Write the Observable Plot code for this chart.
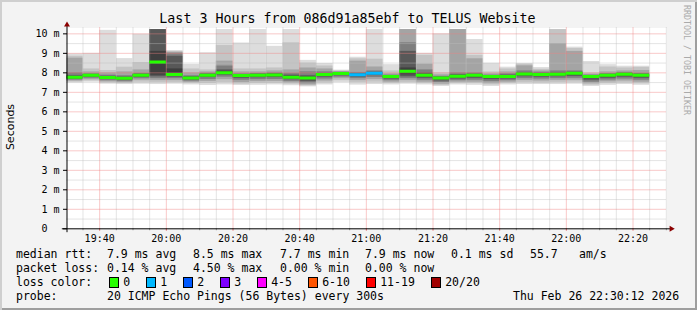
<!DOCTYPE html>
<html><head><meta charset="utf-8">
<script src="https://cdn.jsdelivr.net/npm/d3@7"></script>
<script src="https://cdn.jsdelivr.net/npm/@observablehq/plot@0.6"></script>
<style>
html,body{margin:0;padding:0;background:#f3f3f3;}
#wrap{position:relative;width:697px;height:310px;background:#f3f3f3;box-shadow:inset 2px 2px 0 #cfcfcf, inset -2px -2px 0 #9e9e9e;overflow:hidden;font-family:"DejaVu Sans Mono",monospace;color:#000;}
#wrap svg{position:absolute;left:0;top:0;}
.t{position:absolute;white-space:pre;font-size:11.5px;line-height:14px;height:14px;}
.box{position:absolute;width:8px;height:9px;border:1px solid #000;}
</style>
</head><body>
<div id="wrap"></div>
<script>
// ---------- data ----------
const times = ["19:30","19:35","19:40","19:45","19:50","19:55","20:00","20:05","20:10","20:15","20:20","20:25","20:30","20:35","20:40","20:45","20:50","20:55","21:00","21:05","21:10","21:15","21:20","21:25","21:30","21:35","21:40","21:45","21:50","21:55","22:00","22:05","22:10","22:15","22:20"];
// smoke layer bounds (ms), outermost (max/min) to innermost
const pMax = [8.97,9.0,10.18,8.73,9.98,10.22,9.14,8.43,9.03,10.22,9.53,10.22,9.36,10.22,8.64,8.48,8.14,8.80,10.22,8.42,10.22,9.0,10.0,10.22,9.71,8.49,8.29,8.48,8.27,10.22,9.32,8.58,8.42,8.34,8.34];
const pHi2 = [8.85,8.2,8.12,8.29,8.53,10.22,9.1,8.2,8.15,9.4,8.2,8.2,8.25,9.54,8.5,8.35,8.1,8.72,8.7,8.1,10.22,8.9,8.0,10.22,8.9,8.05,8.2,8.44,8.18,10.22,9.25,8.0,8.3,8.25,8.28];
const pHi3 = [8.75,8.05,8.0,8.05,8.15,10.22,9.05,8.0,8.05,8.6,8.05,8.05,8.1,8.15,8.25,8.2,8.06,8.6,8.3,7.95,10.22,8.45,7.9,10.22,8.72,7.95,8.05,8.36,8.1,9.5,9.1,7.93,8.05,8.1,8.12];
const pHi4 = [8.0,7.95,7.88,7.85,7.98,10.22,9.0,7.85,7.98,8.35,7.95,7.97,8.0,7.98,8.05,8.05,8.03,8.02,8.1,7.88,9.54,8.15,7.82,8.0,8.0,7.88,7.95,8.1,8.03,8.1,8.1,7.88,7.96,8.02,7.98];
const pHi5 = [7.85,7.92,7.82,7.78,7.93,10.22,8.85,7.8,7.93,8.15,7.9,7.93,7.95,7.88,7.85,7.98,8.01,7.96,8.03,7.85,9.1,8.0,7.78,7.9,7.93,7.85,7.88,8.0,7.98,8.0,8.03,7.85,7.92,7.98,7.93];
const pHi6 = [7.8,7.9,7.79,7.75,7.9,9.1,8.2,7.76,7.9,8.05,7.88,7.9,7.92,7.82,7.78,7.94,7.99,7.93,8.0,7.83,8.25,7.92,7.76,7.86,7.9,7.83,7.84,7.97,7.94,7.96,8.0,7.83,7.9,7.96,7.9];
const median = [7.77,7.88,7.76,7.72,7.88,8.55,7.92,7.73,7.88,8.0,7.86,7.88,7.89,7.78,7.73,7.91,7.97,7.90,7.98,7.81,8.08,7.87,7.73,7.83,7.87,7.81,7.81,7.94,7.91,7.93,7.98,7.81,7.87,7.93,7.87];
const pLo6 = [7.72,7.83,7.71,7.67,7.82,7.88,7.85,7.68,7.83,7.95,7.8,7.82,7.84,7.72,7.65,7.85,7.9,7.85,7.93,7.75,7.9,7.8,7.66,7.76,7.8,7.74,7.75,7.88,7.85,7.87,7.9,7.72,7.8,7.86,7.8];
const pLo5 = [7.68,7.78,7.66,7.62,7.76,7.8,7.78,7.63,7.76,7.88,7.72,7.75,7.76,7.65,7.55,7.78,7.85,7.78,7.86,7.68,7.8,7.72,7.58,7.68,7.72,7.65,7.68,7.8,7.78,7.8,7.82,7.62,7.72,7.78,7.72];
const pLo4 = [7.63,7.72,7.6,7.56,7.7,7.7,7.7,7.57,7.66,7.78,7.62,7.65,7.66,7.56,7.45,7.68,7.78,7.7,7.76,7.6,7.7,7.62,7.5,7.6,7.62,7.55,7.6,7.7,7.68,7.7,7.72,7.52,7.63,7.68,7.62];
const pLo3 = [7.58,7.65,7.54,7.5,7.62,7.6,7.6,7.51,7.56,7.65,7.5,7.55,7.56,7.48,7.38,7.58,7.7,7.6,7.65,7.52,7.6,7.52,7.42,7.52,7.52,7.45,7.52,7.6,7.58,7.6,7.62,7.44,7.54,7.58,7.52];
const pLo2 = [7.53,7.58,7.48,7.45,7.52,7.5,7.5,7.45,7.45,7.5,7.42,7.45,7.46,7.42,7.33,7.48,7.6,7.5,7.52,7.45,7.5,7.45,7.36,7.45,7.45,7.38,7.45,7.5,7.48,7.5,7.52,7.37,7.45,7.48,7.44];
const pMin = [7.48,7.52,7.42,7.4,7.42,7.4,7.42,7.38,7.35,7.38,7.35,7.36,7.38,7.34,7.28,7.38,7.5,7.37,7.4,7.38,7.42,7.38,7.30,7.38,7.36,7.30,7.38,7.4,7.4,7.4,7.42,7.30,7.36,7.4,7.36];
const lostPings = [0,0,0,0,0,0,0,0,0,0,0,0,0,0,0,0,0,1,1,0,0,0,0,0,0,0,0,0,0,0,0,0,0,0,0];

const xTickLabels = ["19:40","20:00","20:20","20:40","21:00","21:20","21:40","22:00","22:20"];
const yTickValues = [0,1,2,3,4,5,6,7,8,9,10];
const yTickLabels = ["0\u00a0\u00a0","1 m","2 m","3 m","4 m","5 m","6 m","7 m","8 m","9 m","10 m"];
const lossLabels = ["0","1","2","3","4-5","6-10","11-19","20/20"];
const lossColors = ["#26ff00","#00b8ff","#0059ff","#7e00ff","#ff00ff","#ff5500","#ff0000","#a10000"];
const title = "Last 3 Hours from 086d91a85ebf to TELUS Website";
const rttStats = ["7.9 ms avg","8.5 ms max","7.7 ms min","7.9 ms now","0.1 ms sd","55.7","am/s"];
const lossStats = ["0.14 % avg","4.50 % max","0.00 % min","0.00 % now"];
const probeText = "20 ICMP Echo Pings (56 Bytes) every 300s";
const stamp = "Thu Feb 26 22:30:12 2026";

// ---------- build ----------
const toMin = s => { const [h, m] = s.split(":").map(Number); return (h - 19) * 60 + m; };
const xStart = 30.2, xEnd = 210.2;
const bars = times.map((t, i) => ({t0: toMin(t), t1: toMin(t) + 5, i}));
const uppers = [pMax, pHi2, pHi3, pHi4, pHi5, pHi6];
const lowers = [pMin, pLo2, pLo3, pLo4, pLo5, pLo6];
const layerFills = ["#dddddd","#c4c4c4","#a4a4a4","#7e7e7e","#585858","#3e3e3e"];
const lossIndex = n => n === 0 ? 0 : n === 1 ? 1 : n === 2 ? 2 : n === 3 ? 3 : n <= 5 ? 4 : n <= 10 ? 5 : n < 20 ? 6 : 7;

const majorX = xTickLabels.map(toMin);
const minorX = d3.range(35, 211, 5).filter(m => m % 20 !== 0);
const minorY = d3.range(0.5, 10.3, 1);
const majorY = d3.range(1, 10.3, 1);

const smokeMarks = uppers.map((up, j) => Plot.rect(bars, {
  x1: d => d.t0, x2: d => d.t1, y1: d => lowers[j][d.i], y2: d => up[d.i],
  fill: layerFills[j], clip: true
}));

const chart = Plot.plot({
  width: 697, height: 245,
  marginTop: 27.5, marginBottom: 16.7, marginLeft: 66.5, marginRight: 30.5,
  x: {domain: [xStart, xEnd], axis: null},
  y: {domain: [0, 10.3], axis: null},
  style: {fontFamily: "'DejaVu Sans Mono', monospace", fontSize: "10px", background: "transparent", color: "#000", overflow: "visible"},
  marks: [
    Plot.frame({fill: "white", stroke: null}),
    ...smokeMarks,
    Plot.ruleX(minorX, {stroke: "#bdbdbd", strokeDasharray: "1,1", strokeOpacity: 0.8}),
    Plot.ruleY(minorY, {stroke: "#bdbdbd", strokeDasharray: "1,1", strokeOpacity: 0.8}),
    Plot.ruleX(majorX, {stroke: "#f08080", strokeDasharray: "1,1", strokeOpacity: 0.85}),
    Plot.ruleY(majorY, {stroke: "#f08080", strokeDasharray: "1,1", strokeOpacity: 0.85}),
    Plot.ruleY(bars, {x1: d => d.t0, x2: d => d.t1, y: d => median[d.i],
      stroke: d => lossColors[lossIndex(lostPings[d.i])], strokeWidth: 3, clip: true}),
    // axes
    Plot.ruleX(minorX, {y1: 0, y2: -0.1, stroke: "#999"}),
    Plot.ruleX(majorX, {y1: 0, y2: -0.12, stroke: "#e06060"}),
    Plot.link(yTickValues, {x1: xStart - 1.2, x2: xStart, y1: d => d, y2: d => d, stroke: "#000"}),
    Plot.ruleY([0], {x1: xStart - 1.4, x2: xEnd + 1.2, stroke: "#000"}),
    Plot.ruleX([xStart], {y1: -0.2, y2: 10.3 + 0.15, stroke: "#000"}),
    Plot.dot([0], {x: xEnd + 1.3, y: 0, symbol: "triangle", rotate: 90, r: 2.2, fill: "#8b0000", stroke: null}),
    Plot.dot([0], {x: xStart, y: 10.46, symbol: "triangle", r: 2.2, fill: "#8b0000", stroke: null}),
    Plot.text(yTickLabels, {x: xStart, y: (d, i) => yTickValues[i], text: d => d, textAnchor: "end", dx: -7.5, fill: "#000"}),
    Plot.text(xTickLabels, {x: (d, i) => majorX[i], y: 0, text: d => d, dy: 9.7, fill: "#000"})
  ]
});

const wrap = document.getElementById("wrap");
wrap.appendChild(chart);

function addText(txt, x, cy, extra) {
  const el = document.createElement("div");
  el.className = "t";
  el.textContent = txt;
  el.style.left = x + "px";
  el.style.top = (cy - 7) + "px";
  if (extra) Object.assign(el.style, extra);
  wrap.appendChild(el);
  return el;
}
// title
addText(title, 0, 18.7, {width: "695px", textAlign: "center", fontSize: "13.3px"});
// y label
addText("Seconds", 10.5 - 30, 127, {width: "60px", textAlign: "center", fontSize: "11px", transform: "rotate(-90deg)", transformOrigin: "30px 7px", fontFamily: "'DejaVu Sans', sans-serif"});
// watermark
addText("RRDTOOL / TOBI OETIKER", 687 - 60, 60, {width: "120px", textAlign: "center", fontSize: "8.3px", color: "#aaa", transform: "rotate(90deg)", transformOrigin: "60px 7px"});

// legend rows
const rowY = [254.3, 268.3, 282.1, 296];
const statX = [107, 193, 280, 365, 451, 530, 579];
addText("median rtt:", 16, rowY[0]);
rttStats.forEach((s, i) => addText(s, statX[i], rowY[0]));
addText("packet loss:", 16, rowY[1]);
lossStats.forEach((s, i) => addText(s, statX[i], rowY[1]));
addText("loss color:", 16, rowY[2]);
const boxX = [108.5, 145.5, 182.5, 219.5, 256.5, 307.5, 365.5, 430.5];
lossLabels.forEach((l, i) => {
  const b = document.createElement("div");
  b.className = "box";
  b.style.left = boxX[i] + "px";
  b.style.top = (rowY[2] - 5.5) + "px";
  b.style.background = lossColors[i];
  wrap.appendChild(b);
  addText(l, boxX[i] + 14.7, rowY[2]);
});
addText("probe:", 16, rowY[3]);
addText(probeText, 107, rowY[3]);
addText(stamp, 513, rowY[3]);
</script>
</body></html>
